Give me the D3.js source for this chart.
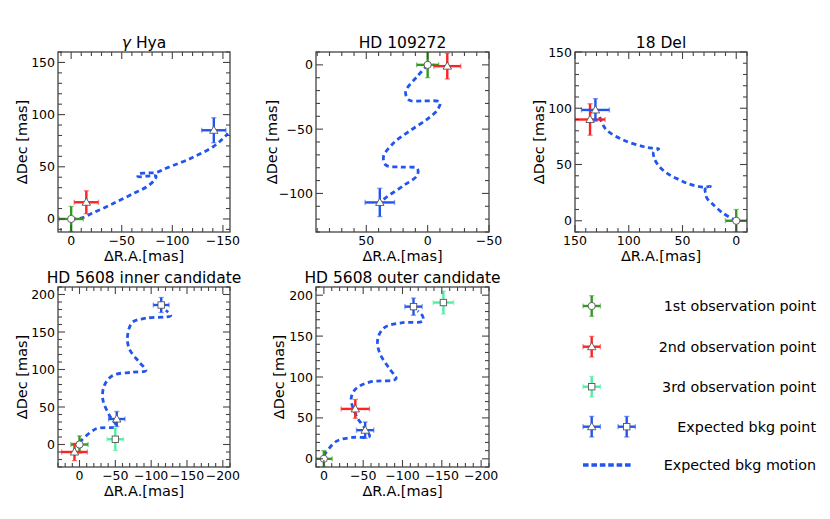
<!DOCTYPE html>
<html>
<head>
<meta charset="utf-8">
<script src="https://cdnjs.cloudflare.com/ajax/libs/d3/7.8.5/d3.min.js"></script>
<style>
  html, body { margin: 0; padding: 0; background: #fff; }
  svg { display: block; font-family: "DejaVu Sans", sans-serif; }
</style>
</head>
<body>
<svg id="chart" width="830" height="519"></svg>
<script>
// ---------------- DATA ----------------
const panelTitles = ["\u03b3 Hya", "HD 109272", "18 Del", "HD 5608 inner candidate", "HD 5608 outer candidate"];

// axis domains (mas) and major tick labels
const gHyaXDomain = [13, -157], gHyaYDomain = [-12.5, 160];
const gHyaXTicks = [0, -50, -100, -150], gHyaYTicks = [0, 50, 100, 150];
const hd109XDomain = [91, -50], hd109YDomain = [-130, 10];
const hd109XTicks = [50, 0, -50], hd109YTicks = [0, -50, -100];
const del18XDomain = [150, -10], del18YDomain = [-10, 150];
const del18XTicks = [150, 100, 50, 0], del18YTicks = [0, 50, 100, 150];
const innerXDomain = [30, -210], innerYDomain = [-30, 210];
const innerXTicks = [0, -50, -100, -150, -200], innerYTicks = [0, 50, 100, 150, 200];
const outerXDomain = [10, -210], outerYDomain = [-10, 210];
const outerXTicks = [0, -50, -100, -150, -200], outerYTicks = [0, 50, 100, 150, 200];

// expected background motion tracks [dRA, dDec]
const gHyaMotion = [[0,0],[-9,0.6],[-22,6],[-42,15],[-62,24.6],[-75,31],[-82,37],[-84,41],[-75,41],[-66,40.8],[-66,43],[-75,44],[-84,44.5],[-95,49],[-118,58],[-140,69],[-150,77],[-155,82]];
const hd109Motion = [[0,0],[8.5,-9],[18,-21],[15,-27.5],[3,-28],[-10,-29],[-8,-35],[0,-42],[14,-51],[28,-61],[36,-71.5],[34,-78],[22,-79.5],[8.5,-80.5],[8.5,-86],[19,-93.5],[33,-102.5],[38.5,-106.5]];
const del18Motion = [[0,0],[12.4,6.8],[23,15.7],[27.3,20.1],[28.5,24.5],[29,28],[24,30.5],[30,29.8],[38,31],[46,33.4],[52.6,36.3],[60.4,39.9],[66.6,43.7],[72.8,49.6],[76,55],[77,61],[72,64],[78,64.5],[86.7,66],[105,71.8],[120.7,80.7],[125.3,88],[128,95]];
const innerMotion = [[0,3],[-23,21],[-51,24.4],[-41.7,38.7],[-32.4,61],[-34.7,78.7],[-46.3,92],[-74,96.4],[-92.6,98.7],[-83.3,109.8],[-69.4,127.6],[-67.1,145.3],[-74,163],[-92.6,168.4],[-127.3,172],[-120.4,178.7]];
const outerMotion = [[0,4],[-15.7,21.3],[-36.8,26.1],[-58,27.4],[-52,37.5],[-41.9,51.5],[-34.7,73.8],[-41,85.8],[-58,93.8],[-91.8,97.9],[-83.4,110],[-70.7,130],[-68.5,146.3],[-77,160.4],[-100.3,166.4],[-125.6,168.4],[-125.6,174.5],[-119.2,180.5]];

// measured / expected points: [kind, dRA, dDec, errRA, errDec]
const gHyaPoints = [["obs1",0,0,12,12],["obs2",-15,16,12,11],["bkgTri",-141,85,12,12]];
const hd109Points = [["obs1",0,0,9,10],["obs2",-16,-1,11,10],["bkgTri",39,-107,12,11]];
const del18Points = [["obs1",0,0,10,10],["obs2",136,90,14,14],["bkgTri",131,98.5,13,10]];
const innerPoints = [["obs1",0,0,12,11.5],["obs2",7,-10,18,11.5],["obs3",-50,7,11.5,15],["bkgTri",-52,34,11.5,10],["bkgSq",-114,186,11,10]];
const outerPoints = [["obs1",0,0,10.6,10],["obs2",-40,61,18,11.5],["bkgTri",-52.5,35,11,10],["bkgSq",-114,186,11,10.5],["obs3",-152,191,13,14]];

const legendLabels = ["1st observation point", "2nd observation point", "3rd observation point", "Expected bkg point", "Expected bkg motion"];

// ---------------- STYLE / LAYOUT ----------------
const colors = { obs1: "#339922", obs2: "#ff2222", obs3: "#4ff0a6", bkgTri: "#2255ee", bkgSq: "#2255ee" };
const markerOf = { obs1: "circle", obs2: "tri", obs3: "square", bkgTri: "tri", bkgSq: "square" };
const motionColor = "#2255ee";
const frameColor = "#444";

const panels = [
  { title: panelTitles[0], xd: gHyaXDomain, yd: gHyaYDomain, xt: gHyaXTicks, yt: gHyaYTicks, motion: gHyaMotion, pts: gHyaPoints, x0: 58, x1: 230, y0: 52, y1: 232, ylabX: 21.7 },
  { title: panelTitles[1], xd: hd109XDomain, yd: hd109YDomain, xt: hd109XTicks, yt: hd109YTicks, motion: hd109Motion, pts: hd109Points, x0: 316, x1: 489, y0: 52, y1: 232, ylabX: 272 },
  { title: panelTitles[2], xd: del18XDomain, yd: del18YDomain, xt: del18XTicks, yt: del18YTicks, motion: del18Motion, pts: del18Points, x0: 575, x1: 747, y0: 52, y1: 232, ylabX: 539 },
  { title: panelTitles[3], xd: innerXDomain, yd: innerYDomain, xt: innerXTicks, yt: innerYTicks, motion: innerMotion, pts: innerPoints, x0: 58, x1: 230, y0: 287, y1: 467, ylabX: 21.7 },
  { title: panelTitles[4], xd: outerXDomain, yd: outerYDomain, xt: outerXTicks, yt: outerYTicks, motion: outerMotion, pts: outerPoints, x0: 316, x1: 489, y0: 287, y1: 467, ylabX: 279 }
];

const svg = d3.select("#chart");
const defs = svg.append("defs");
const fmt = v => (v < 0 ? "\u2212" + Math.abs(v) : String(v));

function drawMarker(g, kind, cx, cy, scale) {
  const s = scale || 1;
  const type = markerOf[kind];
  const st = { fill: "#fff", stroke: "#555", "stroke-width": 0.9 };
  let m;
  if (type === "circle") {
    m = g.append("circle").attr("cx", cx).attr("cy", cy).attr("r", 3.6 * s);
  } else if (type === "square") {
    const h = 3.2 * s;
    m = g.append("rect").attr("x", cx - h).attr("y", cy - h).attr("width", 2 * h).attr("height", 2 * h);
  } else {
    const h = 4.2 * s;
    m = g.append("path").attr("d", `M${cx},${cy - h}L${cx + h},${cy + h * 0.72}L${cx - h},${cy + h * 0.72}Z`);
  }
  Object.entries(st).forEach(([k, v]) => m.attr(k, v));
}

function drawErrorPoint(g, kind, cx, cy, left, right, top, bottom) {
  const c = colors[kind];
  const eg = g.append("g");
  eg.append("line").attr("x1", left).attr("x2", right).attr("y1", cy).attr("y2", cy)
    .attr("stroke", c).attr("stroke-width", 2.4);
  eg.append("line").attr("x1", cx).attr("x2", cx).attr("y1", top).attr("y2", bottom)
    .attr("stroke", c).attr("stroke-width", 2.4);
  const cap = 2.6;
  [[left, cy, 0], [right, cy, 0], [cx, top, 1], [cx, bottom, 1]].forEach(([px, py, vert]) => {
    eg.append("line")
      .attr("x1", vert ? px - cap : px).attr("x2", vert ? px + cap : px)
      .attr("y1", vert ? py : py - cap).attr("y2", vert ? py : py + cap)
      .attr("stroke", c).attr("stroke-width", 1.3).attr("opacity", 0.55);
  });
  drawMarker(eg, kind, cx, cy);
}

panels.forEach((p, i) => {
  const x = d3.scaleLinear().domain(p.xd).range([p.x0, p.x1]);
  const y = d3.scaleLinear().domain(p.yd).range([p.y1, p.y0]);
  const g = svg.append("g");

  defs.append("clipPath").attr("id", "clip" + i)
    .append("rect").attr("x", p.x0).attr("y", p.y0).attr("width", p.x1 - p.x0).attr("height", p.y1 - p.y0);
  const plot = g.append("g").attr("clip-path", `url(#clip${i})`);

  // motion track
  const line = d3.line().x(d => x(d[0])).y(d => y(d[1])).curve(d3.curveCatmullRom.alpha(0.5));
  plot.append("path").attr("d", line(p.motion))
    .attr("fill", "none").attr("stroke", motionColor).attr("stroke-width", 2.8)
    .attr("stroke-dasharray", "5,3.6");

  // points
  p.pts.forEach(([kind, ra, dec, era, edec]) => {
    drawErrorPoint(plot, kind, x(ra), y(dec), x(ra + era), x(ra - era), y(dec + edec), y(dec - edec));
  });

  // ticks (inward, all four sides)
  const xMinor = d3.range(Math.ceil(Math.min(...p.xd) / 10) * 10, Math.max(...p.xd) + 0.01, 10);
  const yMinor = d3.range(Math.ceil(Math.min(...p.yd) / 10) * 10, Math.max(...p.yd) + 0.01, 10);
  const tg = g.append("g").attr("stroke", frameColor).attr("stroke-width", 1.1);
  xMinor.forEach(v => {
    const L = p.xt.includes(v) ? 7 : 4;
    tg.append("line").attr("x1", x(v)).attr("x2", x(v)).attr("y1", p.y1).attr("y2", p.y1 - L);
    tg.append("line").attr("x1", x(v)).attr("x2", x(v)).attr("y1", p.y0).attr("y2", p.y0 + L);
  });
  yMinor.forEach(v => {
    const L = p.yt.includes(v) ? 7 : 4;
    tg.append("line").attr("y1", y(v)).attr("y2", y(v)).attr("x1", p.x0).attr("x2", p.x0 + L);
    tg.append("line").attr("y1", y(v)).attr("y2", y(v)).attr("x1", p.x1).attr("x2", p.x1 - L);
  });

  // frame
  g.append("rect").attr("x", p.x0).attr("y", p.y0).attr("width", p.x1 - p.x0).attr("height", p.y1 - p.y0)
    .attr("fill", "none").attr("stroke", frameColor).attr("stroke-width", 1.3);

  // tick labels
  p.xt.forEach(v => {
    g.append("text").attr("x", x(v)).attr("y", p.y1 + 13).attr("text-anchor", "middle")
      .attr("font-size", 12.5).attr("fill", "#000").text(fmt(v));
  });
  p.yt.forEach(v => {
    g.append("text").attr("x", p.x0 - 3).attr("y", y(v)).attr("dy", "0.36em").attr("text-anchor", "end")
      .attr("font-size", 12.5).attr("fill", "#000").text(fmt(v));
  });

  // title (Greek letter set in italic like math text) and axis labels
  const tt = g.append("text").attr("x", (p.x0 + p.x1) / 2).attr("y", p.y0 - 4).attr("text-anchor", "middle")
    .attr("font-size", 15.5).attr("fill", "#000");
  if (p.title.startsWith("\u03b3")) {
    tt.append("tspan").attr("font-style", "italic").text("\u03b3");
    tt.append("tspan").text(p.title.slice(1));
  } else {
    tt.text(p.title);
  }
  g.append("text").attr("x", (p.x0 + p.x1) / 2).attr("y", p.y1 + 29).attr("text-anchor", "middle")
    .attr("font-size", 14.5).attr("fill", "#000").text("\u0394R.A.[mas]");
  g.append("text").attr("transform", `translate(${p.ylabX},${(p.y0 + p.y1) / 2}) rotate(-90)`)
    .attr("text-anchor", "middle").attr("dominant-baseline", "central")
    .attr("font-size", 14.5).attr("fill", "#000").text("\u0394Dec [mas]");
});

// ---------------- LEGEND ----------------
const lg = svg.append("g");
const legRows = [306, 346.7, 386.7, 426.7, 465];
const legX = 591.7, legX2 = 626.7, hx = 8.7, hy = 10.3;
const legKinds = [["obs1"], ["obs2"], ["obs3"], ["bkgTri", "bkgSq"]];
legKinds.forEach((kinds, r) => {
  kinds.forEach((k, j) => {
    const cx = j === 0 ? legX : legX2, cy = legRows[r];
    drawErrorPoint(lg, k, cx, cy, cx - hx, cx + hx, cy - hy, cy + hy);
  });
});
lg.append("line").attr("x1", 583).attr("x2", 631).attr("y1", legRows[4]).attr("y2", legRows[4])
  .attr("stroke", motionColor).attr("stroke-width", 3.3).attr("stroke-dasharray", "5.6,2.8");
legendLabels.forEach((t, r) => {
  lg.append("text").attr("x", 816).attr("y", legRows[r]).attr("dy", "0.36em").attr("text-anchor", "end")
    .attr("font-size", 14.3).attr("fill", "#000").text(t);
});
</script>
</body>
</html>
